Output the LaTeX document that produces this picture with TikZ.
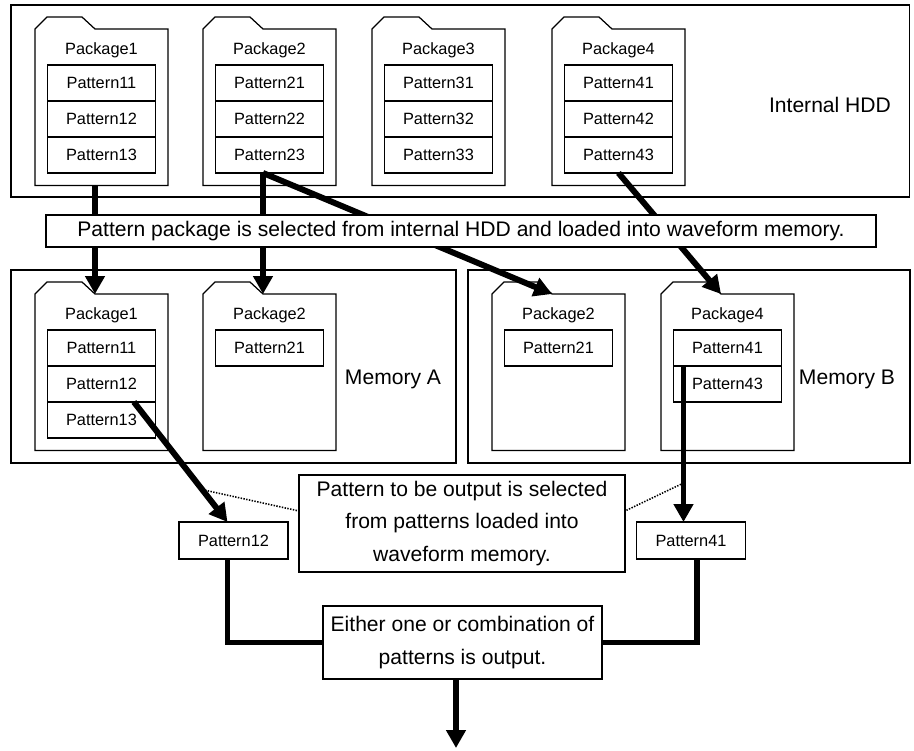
\documentclass[tikz,border=0pt]{standalone}
\usepackage{fontspec}
\setmainfont{Liberation Sans}
\usetikzlibrary{arrows.meta, positioning, calc}

\begin{document}
\begin{tikzpicture}[
    x=0.02cm, y=-0.02cm,
    >={Triangle[length=0.36cm, width=0.38cm]},
    every node/.style={align=center, outer sep=0pt, inner sep=0pt},
    outline/.style={draw, line width=0.7pt},
    frame/.style={outline, anchor=north west},
    pkg/.style={minimum width=2.66cm, minimum height=3.13cm, anchor=north west},
    pat/.style={outline, minimum width=2.16cm, minimum height=0.72cm, font=\fontsize{9.3}{11}\selectfont},
    small/.style={font=\fontsize{9.3}{11}\selectfont},
    big/.style={font=\fontsize{12}{18.7}\selectfont},
    note/.style={outline, fill=white, big},
    flow/.style={->, line width=3.4pt},
    link/.style={line width=3.4pt},
    hint/.style={line width=0.9pt, dash pattern=on 0.8pt off 0.8pt}
]
\useasboundingbox (0,0) rectangle (914,751);

% =========================================================
% Storage frames
% =========================================================
\node[frame, minimum width=17.98cm, minimum height=3.84cm] (hdd) at (11,5) {};
\node[big] (hddname) at (830,105) {Internal HDD};

\node[frame, minimum width=8.9cm, minimum height=3.86cm] (mema) at (11,270) {};
\node[big] (memaname) at (393,379) {Memory A};

\node[frame, minimum width=8.84cm, minimum height=3.86cm] (memb) at (468,270) {};
\node[big] (membname) at (847,379) {Memory B};

% Folders (body + tab)
\foreach \n/\x/\y/\k in {h1/35/29/1, h2/203/29/2, h3/372/29/3, h4/552/29/4,
                         ma1/35/294/1, ma2/203/294/2, mb2/492/294/2, mb4/661/294/4} {
    \node[pkg] (\n) at (\x,\y) {};
    \draw[outline] (\n.north west) -- ++(12,-12) -- ++(35,0) -- ++(13,12)
        -- (\n.north east) -- (\n.south east) -- (\n.south west) -- cycle;
    \coordinate (\n-tab) at ($(\n.north west)+(60,0)$);
    \node[small] (\n-name) at ($(\n.north)+(0,21)$) {Package\k};
}

% Patterns on the HDD
\foreach \i in {1,...,4} {
    \node[pat, anchor=north] (h\i1) at ($(h\i.north)+(0,36)$) {Pattern\i1};
    \node[pat, below=0pt of h\i1] (h\i2) {Pattern\i2};
    \node[pat, below=0pt of h\i2] (h\i3) {Pattern\i3};
}

% Patterns in waveform memory
\node[pat, anchor=north] (ma11) at ($(ma1.north)+(0,36)$) {Pattern11};
\node[pat, below=0pt of ma11] (ma12) {Pattern12};
\node[pat, below=0pt of ma12] (ma13) {Pattern13};
\node[pat, anchor=north] (ma21) at ($(ma2.north)+(0,36)$) {Pattern21};
\node[pat, anchor=north] (mb21) at ($(mb2.north)+(0,36)$) {Pattern21};
\node[pat, anchor=north] (mb41) at ($(mb4.north)+(0,36)$) {Pattern41};
\node[pat, below=0pt of mb41] (mb43) {Pattern43};

% Output side
\node[pat, minimum width=2.18cm, minimum height=0.74cm] (out12) at (233.5,540.5) {Pattern12};
\node[pat, minimum width=2.18cm, minimum height=0.74cm] (out41) at (691,540.5) {Pattern41};
\node[note, minimum width=6.52cm, minimum height=1.94cm] (pick) at (462,523.5)
    {Pattern to be output is selected\\from patterns loaded into\\waveform memory.};
\node[note, minimum width=5.58cm, minimum height=1.46cm] (mix) at (462.5,642.5)
    {Either one or combination of\\patterns is output.};
\coordinate (sink) at (456,748);

% Loading arrows
\draw[flow] (h1-tab |- h1.south) -- (ma1-tab);
\draw[flow] (ma2-tab |- h23.south) -- (ma2-tab);
\draw[flow] (ma2-tab |- h23.south) -- (mb2-tab);
\draw[flow] (h43.south) -- (mb4-tab);

% Selection arrows
\draw[flow] ($(ma12.south)!0.6!(ma12.south east)$) -- coordinate[pos=0.73] (dot12) ($(out12.north)+(-6,0)$);
\draw[flow] ($(mb41.south west)+(10,0)$) coordinate (s41) -- coordinate[pos=0.75] (dot41) (s41 |- out41.north);
\draw[hint] (dot12) -- ($(pick.west)+(0,-12.5)$);
\draw[hint] (dot41) -- ($(pick.east)+(0,-12.5)$);

% Combining lines
\draw[link] ($(out12.south)+(-6,0)$) |- (mix.west);
\draw[link] ($(out41.south)+(6,0)$) |- (mix.east);
\draw[flow] (sink |- mix.south) -- (sink);

% Banner over the loading arrows
\node[note, minimum width=16.6cm, minimum height=0.64cm] (load) at (461,231)
    {Pattern package is selected from internal HDD and loaded into waveform memory.};

\end{tikzpicture}
\end{document}
